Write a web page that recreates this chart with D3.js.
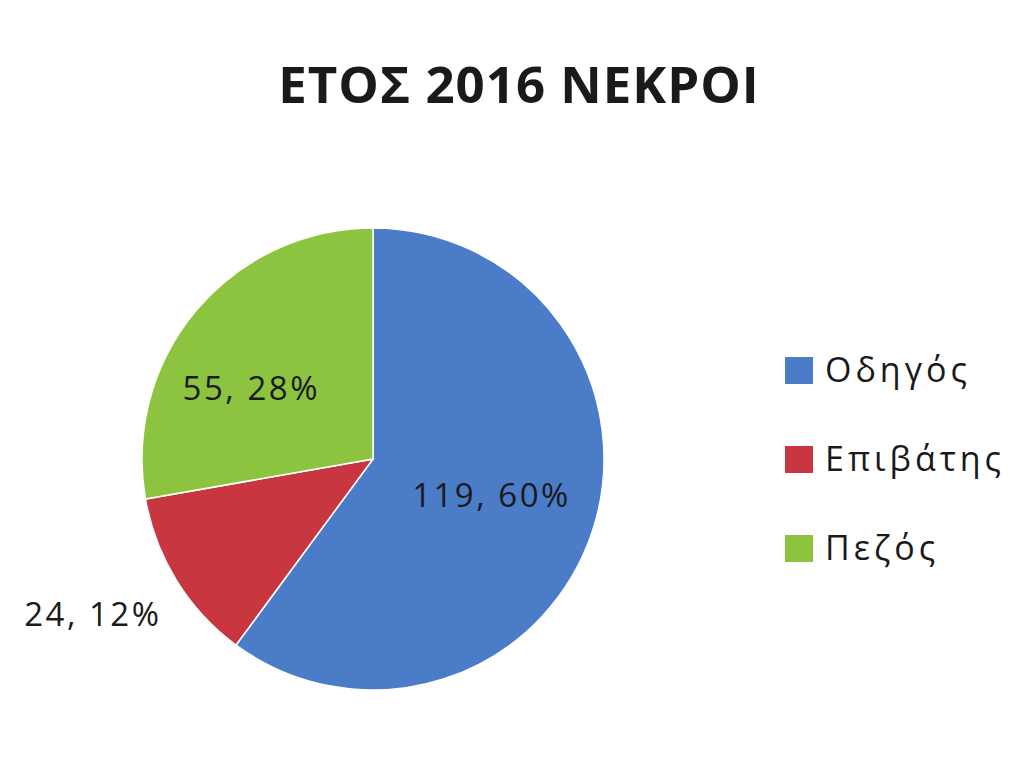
<!DOCTYPE html>
<html><head><meta charset="utf-8">
<script src="https://cdn.jsdelivr.net/npm/d3@7"></script>
<style>body{margin:0;background:#fff}svg{display:block}</style>
</head><body>
<svg id="c" width="1024" height="758"></svg>
<script>
const categories = ["Οδηγός", "Επιβάτης", "Πεζός"];
const values = [119, 24, 55];
const percents = ["60%", "12%", "28%"];
const colors = ["#4a7cc8", "#c8363f", "#8cc43f"];
const title = "ΕΤΟΣ 2016 ΝΕΚΡΟΙ";

const svg = d3.select("#c");
const W = 1024, H = 758;
svg.append("rect").attr("width", W).attr("height", H).attr("fill", "#fff");

svg.append("text").attr("x", 519).attr("y", 103).attr("text-anchor", "middle")
  .attr("font-family", "Open Sans, sans-serif").attr("font-weight", "bold")
  .attr("font-size", 51).attr("letter-spacing", 1).attr("fill", "#1a1a1a").text(title);

const cx = 373, cy = 459, r = 231;
const pie = d3.pie().sort(null).value(d => d)(values);
const arc = d3.arc().innerRadius(0).outerRadius(r);
const g = svg.append("g").attr("transform", `translate(${cx},${cy})`);
g.selectAll("path").data(pie).join("path").attr("d", arc)
  .attr("fill", (d, i) => colors[i]).attr("stroke", "#fff").attr("stroke-width", 1.5);

// label layout: radius fraction along mid-angle plus a small nudge
const labelR = [0.54, 1.3, 0.62];
const nudge = [[0, -2], [-25, -3], [-12, 21]];
const font = "Open Sans, sans-serif";
g.selectAll("text.lbl").data(pie).join("text").attr("class", "lbl")
  .attr("transform", (d, i) => {
    const a = (d.startAngle + d.endAngle) / 2;
    const rr = r * labelR[i];
    return `translate(${Math.sin(a) * rr + nudge[i][0]},${-Math.cos(a) * rr + nudge[i][1]})`;
  })
  .attr("text-anchor", "middle").attr("dy", "0.35em")
  .attr("font-family", font).attr("font-size", 33).attr("letter-spacing", 2.5).attr("fill", "#1a1a1a")
  .text((d, i) => `${values[i]}, ${percents[i]}`);

const leg = svg.append("g").attr("transform", "translate(785,370)");
const rows = leg.selectAll("g").data(categories).join("g")
  .attr("transform", (d, i) => `translate(0,${i * 89})`);
rows.append("rect").attr("x", 0).attr("y", -13).attr("width", 28).attr("height", 27)
  .attr("fill", (d, i) => colors[i]);
rows.append("text").attr("x", 40).attr("y", 0).attr("dy", "0.36em")
  .attr("font-family", font).attr("font-size", 34).attr("letter-spacing", 4).attr("fill", "#1a1a1a")
  .text(d => d);
</script>
</body></html>
